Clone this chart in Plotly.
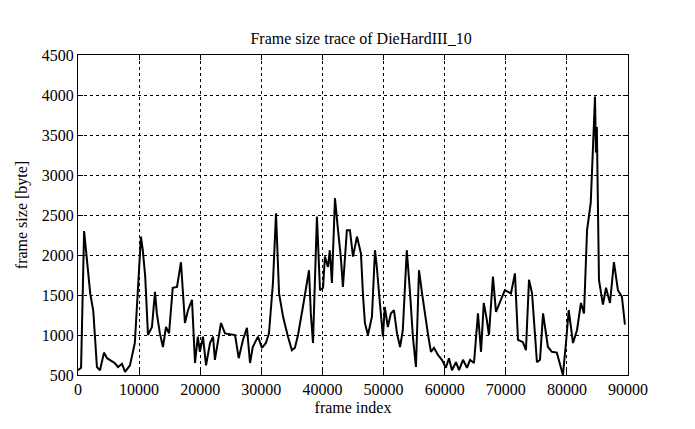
import plotly.graph_objects as go

frame_index = [0, 500, 1000, 2000, 2500, 3100, 3600, 4250, 4750, 5500, 6000, 6550, 7200, 7700,
               8500, 9300, 9800, 10300, 10600, 11000, 11450, 12100, 12600, 12900, 13400, 13900,
               14400, 14900, 15500, 16200, 16850, 17500, 18000, 18650, 19150, 19600, 19950,
               20450, 20950, 21600, 22100, 22400, 23400, 24050, 25700, 26300, 27000, 27650,
               28150, 28600, 29450, 30100, 30750, 31250, 31900, 32400, 32900, 33550, 34350,
               35000, 35500, 36000, 36800, 37800, 38100, 38450, 39100, 39600, 40100, 40400,
               40900, 41200, 41550, 42050, 42550, 43000, 43350, 44000, 44500, 45000, 45650,
               46300, 46650, 46950, 47450, 48100, 48600, 48900, 49400, 49900, 50200, 50700,
               51200, 51700, 52200, 52700, 53150, 53800, 54300, 54800, 55300, 55800, 56300,
               56800, 57250, 57750, 58250, 58900, 59550, 60200, 60700, 61200, 61850, 62350,
               63000, 63650, 64150, 64800, 65450, 65950, 66400, 66900, 67250, 67900, 68400,
               69050, 69850, 70850, 71500, 72000, 72800, 73300, 73800, 74300, 75100, 75600,
               76100, 76900, 77550, 78350, 78850, 79350, 79850, 80300, 81000, 81650, 82300,
               82800, 83300, 83900, 84250, 84600, 84750, 84900, 85250, 85900, 86400, 87050,
               87700, 88350, 89000, 89500]
frame_size = [560, 590, 2300, 1520, 1300, 600, 560, 780, 710, 680, 650, 600, 640, 540,
              620, 900, 1600, 2230, 2060, 1730, 1000, 1100, 1540, 1270, 1020, 850,
              1100, 1020, 1590, 1600, 1910, 1150, 1310, 1440, 650, 980, 790,
              980, 620, 900, 980, 690, 1150, 1020, 1000, 710, 940, 1090,
              650, 850, 980, 840, 900, 1020, 1650, 2520, 1520, 1230, 980,
              810, 840, 1000, 1350, 1810, 1270, 900, 2480, 1560, 1590, 1980,
              1850, 2060, 1650, 2710, 2310, 1980, 1600, 2310, 2310, 1980, 2230,
              2020, 1480, 1150, 1000, 1230, 2060, 1850, 1400, 980, 1350, 1100,
              1270, 1310, 1020, 850, 1060, 2060, 1560, 980, 600, 1810, 1520,
              1230, 1020, 790, 840, 750, 690, 590, 710, 560, 660, 560,
              690, 590, 690, 650, 1270, 790, 1400, 1190, 1000, 1730, 1290,
              1410, 1560, 1520, 1770, 940, 910, 810, 1690, 1520, 660, 690,
              1270, 850, 790, 780, 650, 500, 900, 1310, 900, 1060, 1400,
              1270, 2310, 2650, 3310, 3980, 3280, 3600, 1690, 1380, 1590, 1400,
              1910, 1560, 1480, 1130]

x_ticks = [0, 10000, 20000, 30000, 40000, 50000, 60000, 70000, 80000, 90000]
y_ticks = [500, 1000, 1500, 2000, 2500, 3000, 3500, 4000, 4500]

font_family = "Liberation Serif, Times New Roman, serif"
fsize = 16

fig = go.Figure()
fig.add_trace(go.Scatter(x=frame_index, y=frame_size, mode="lines",
                         line=dict(color="black", width=2), showlegend=False))

axis_common = dict(
    showline=True, linecolor="black", linewidth=1, mirror="ticks",
    ticks="inside", ticklen=5, tickcolor="black",
    showgrid=True, gridcolor="black", griddash="dot", gridwidth=1,
    zeroline=False, tickfont=dict(family=font_family, size=fsize, color="black"),
)

fig.update_xaxes(range=[0, 90000], tickvals=x_ticks, ticktext=[str(v) for v in x_ticks],
                 title=dict(text="frame index", font=dict(family=font_family, size=fsize, color="black"),
                            standoff=4),
                 **axis_common)
fig.update_yaxes(range=[500, 4500], tickvals=y_ticks, ticktext=[str(v) for v in y_ticks],
                 title=dict(text="frame size [byte]", font=dict(family=font_family, size=fsize, color="black"),
                            standoff=10),
                 **axis_common)

fig.update_layout(
    width=695, height=429,
    margin=dict(l=70, r=75, t=47, b=62),
    paper_bgcolor="white", plot_bgcolor="white",
    title=dict(text="Frame size trace of DieHardIII_10", x=0.508, xanchor="center",
               y=1 - 30 / 429, yanchor="middle", yref="container",
               font=dict(family=font_family, size=fsize, color="black")),
    font=dict(family=font_family, color="black"),
)

fig.write_html("out.html")
